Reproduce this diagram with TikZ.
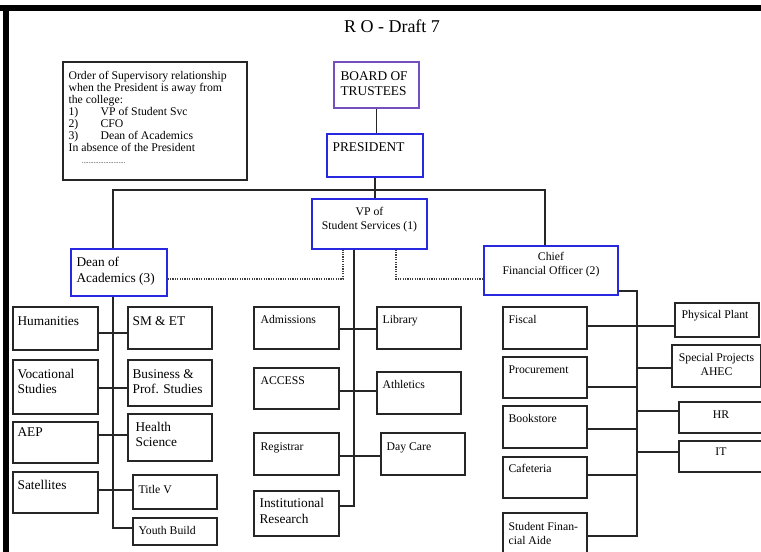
\documentclass[tikz,border=0pt]{standalone}
\usepackage{fontspec}
\setmainfont{Liberation Serif}
\usepackage{tikz}
\usetikzlibrary{positioning,fit}
\definecolor{headBlue}{RGB}{40,40,225}
\definecolor{boardPurple}{RGB}{115,80,190}
\colorlet{lineColor}{black!85}
\tikzset{
  unit/.style={draw=lineColor,line width=1pt,inner sep=0pt},
  head/.style={unit,draw=headBlue},
  link/.style={draw=lineColor,line width=.8pt},
  liaison/.style={draw=black!75,line width=.8pt,densely dotted},
  ltext/.style={anchor=north west,inner sep=0pt,align=left,font=\fontsize{8.8}{10}\selectfont},
  lbig/.style={ltext,font=\fontsize{10}{11}\selectfont},
  ctext/.style={anchor=north,inner sep=0pt,align=center,font=\fontsize{8.8}{10.5}\selectfont}
}

\begin{document}
\begin{tikzpicture}[x=.75pt,y=-.75pt]
  \clip (0,0) rectangle (761,552);
  \fill[white] (0,0) rectangle (761,552);
  \fill[black] (0,5) rectangle (761,11);
  \fill[black] (3,5) rectangle (9,552);

  \node[anchor=base,font=\fontsize{13.5}{15}\selectfont] (title) at (392,33) {R O - Draft 7};

  % top of the chart
  \node[unit,fit={(63,62) (247,180)},
    label={[ltext,font=\fontsize{8.8}{9}\selectfont,shift={(6,10)}]north west:Order of Supervisory relationship\\
      when the President is away from\\the college:\\
      \makebox[24pt][l]{1)}VP of Student Svc\\
      \makebox[24pt][l]{2)}CFO\\
      \makebox[24pt][l]{3)}Dean of Academics\\
      In absence of the President\\
      \hspace*{10pt}{\fontsize{5}{9}\selectfont ..........................}}] (note) {};
  \node[unit,draw=boardPurple,fit={(334,62) (419,108)},
    label={[lbig,shift={(7,10)}]north west:BOARD OF\\TRUSTEES}] (board) {};
  \node[head,fit={(327,134) (423,177)},
    label={[lbig,shift={(6,9)}]north west:PRESIDENT}] (pres) {};
  \node[head,fit={(312,199) (427,249)},
    label={[ctext,shift={(0,9)}]north:VP of\\Student Services (1)}] (vp) {};
  \node[head,fit={(71,249) (167,296)},
    label={[lbig,font=\fontsize{10}{12}\selectfont,shift={(6,9)}]north west:Dean of\\Academics (3)}] (dean) {};
  \node[head,fit={(484,246) (618,295)},
    label={[ctext,shift={(0,7)}]north:Chief\\Financial Officer (2)}] (cfo) {};

  % academics
  \node[unit,fit={(13,307) (98,350)},label={[lbig,shift={(5,10)}]north west:Humanities}] (hum) {};
  \node[unit,fit={(128,307) (212,349)},label={[lbig,shift={(5,10)}]north west:SM \& ET}] (sme) {};
  \node[unit,fit={(13,360) (98,414)},label={[lbig,shift={(5,10)}]north west:Vocational\\Studies}] (voc) {};
  \node[unit,fit={(128,360) (212,406)},label={[lbig,shift={(5,10)}]north west:Business \&\\Prof. Studies}] (bus) {};
  \node[unit,fit={(13,422) (98,463)},label={[lbig,shift={(5,6)}]north west:AEP}] (aep) {};
  \node[unit,fit={(128,414) (212,461)},label={[lbig,shift={(8,9)}]north west:Health\\Science}] (hea) {};
  \node[unit,fit={(13,472) (98,513)},label={[lbig,shift={(5,9)}]north west:Satellites}] (sat) {};
  \node[unit,fit={(133,475) (217,509)},label={[ltext,shift={(6,11)}]north west:Title V}] (tit) {};
  \node[unit,fit={(133,518) (217,545)},label={[ltext,shift={(6,9)}]north west:Youth Build}] (you) {};

  % student services
  \node[unit,fit={(254,307) (339,349)},label={[ltext,shift={(7,9)}]north west:Admissions}] (adm) {};
  \node[unit,fit={(377,307) (461,349)},label={[ltext,shift={(6,9)}]north west:Library}] (lib) {};
  \node[unit,fit={(254,368) (339,409)},label={[ltext,shift={(7,9)}]north west:ACCESS}] (acc) {};
  \node[unit,fit={(377,372) (461,414)},label={[ltext,shift={(6,9)}]north west:Athletics}] (ath) {};
  \node[unit,fit={(254,433) (339,475)},label={[ltext,shift={(7,10)}]north west:Registrar}] (reg) {};
  \node[unit,fit={(381,433) (465,475)},label={[ltext,shift={(6,10)}]north west:Day Care}] (day) {};
  \node[unit,fit={(254,491) (339,536)},
    label={[lbig,font=\fontsize{10}{12}\selectfont,shift={(6,8)}]north west:Institutional\\Research}] (ires) {};

  % finance
  \node[unit,fit={(503,307) (587,349)},label={[ltext,shift={(6,9)}]north west:Fiscal}] (fis) {};
  \node[unit,fit={(503,357) (587,398)},label={[ltext,shift={(6,9)}]north west:Procurement}] (pro) {};
  \node[unit,fit={(503,406) (587,448)},label={[ltext,shift={(6,9)}]north west:Bookstore}] (boo) {};
  \node[unit,fit={(503,457) (587,498)},label={[ltext,shift={(6,8)}]north west:Cafeteria}] (caf) {};
  \node[unit,fit={(503,513) (587,560)},label={[ltext,shift={(6,10)}]north west:Student Finan-\\cial Aide}] (sfa) {};
  \node[unit,fit={(675,303) (759,337)},label={[ltext,shift={(7,8)}]north west:Physical Plant}] (pla) {};
  \node[unit,fit={(672,345) (761,387)},label={[ctext,shift={(0,9)}]north:Special Projects\\AHEC}] (spe) {};
  \node[unit,fit={(679,402) (763,433)},label={[ctext,shift={(0,9)}]north:HR}] (hr) {};
  \node[unit,fit={(679,441) (763,472)},label={[ctext,shift={(0,7)}]north:IT}] (it) {};

  % connectors
  \coordinate (busL) at (113,190);
  \coordinate (busR) at (545,190);
  \draw[link] (board.south) -- (board.south |- pres.north);
  \draw[link] (pres.south) -- (pres.south |- vp.north);
  \draw[link] (busL |- dean.north) -- (busL) -- (busR) -- (busR |- cfo.north);

  \coordinate (dotL) at (343,279);
  \coordinate (dotR) at (396,279);
  \draw[liaison] (dean.east |- dotL) -- (dotL) -- (dotL |- vp.south);
  \draw[liaison] (dotR |- vp.south) -- (dotR) -- (cfo.west |- dotR);

  \coordinate (acTrunk) at (113,528);
  \draw[link] (acTrunk |- dean.south) -- (acTrunk) -- (you.west |- acTrunk);
  \foreach \l/\r/\y in {hum/sme/333,voc/bus/388,aep/hea/435,sat/tit/490}
    \draw[link] (\l.east |- 0,\y) -- (\r.west |- 0,\y);

  \coordinate (vpTrunk) at (354,506);
  \draw[link] (vpTrunk |- vp.south) -- (vpTrunk) -- (ires.east |- vpTrunk);
  \foreach \l/\r/\y in {adm/lib/329,acc/ath/391,reg/day/456}
    \draw[link] (\l.east |- 0,\y) -- (\r.west |- 0,\y);

  \coordinate (cfTrunk) at (637,536);
  \draw[link] (cfo.east |- 0,291) -| (cfTrunk) -- (sfa.east |- cfTrunk);
  \draw[link] (fis.east |- 0,326) -- (pla.west |- 0,326);
  \foreach \n/\y in {pro/387,boo/429,caf/475}
    \draw[link] (\n.east |- 0,\y) -- (cfTrunk |- 0,\y);
  \foreach \n/\y in {spe/368,hr/411,it/452}
    \draw[link] (cfTrunk |- 0,\y) -- (\n.west |- 0,\y);
\end{tikzpicture}
\end{document}
